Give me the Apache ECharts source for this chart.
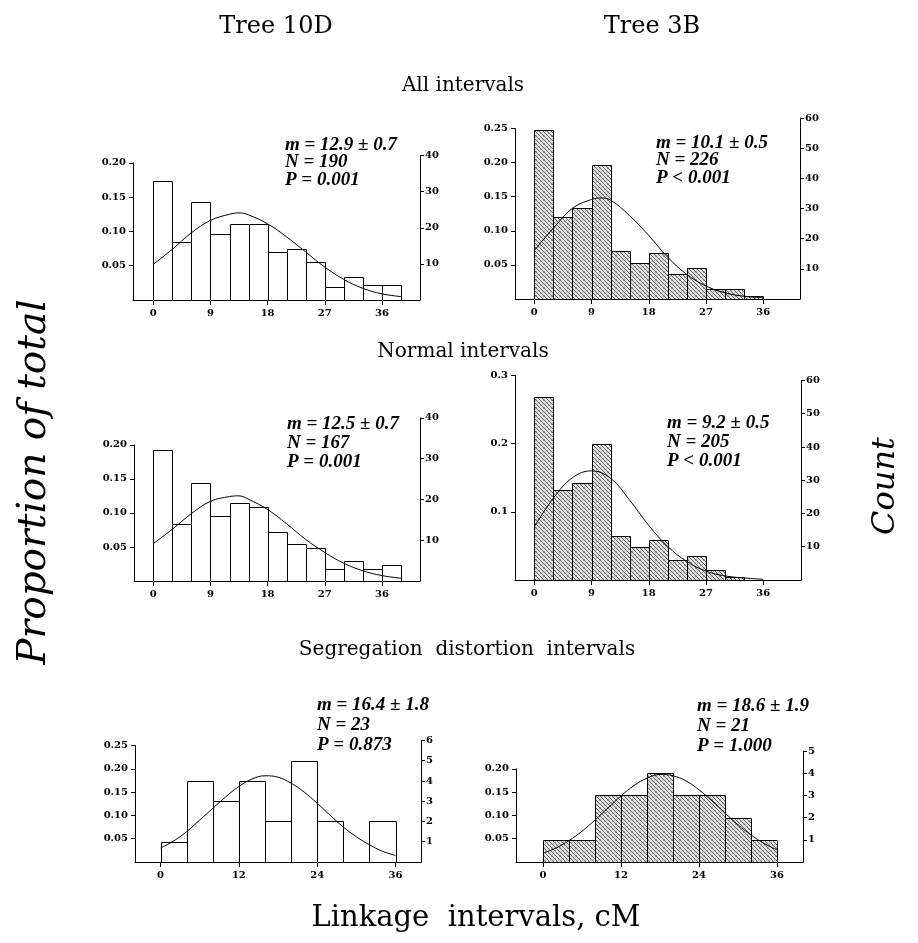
<!DOCTYPE html>
<html><head><meta charset="utf-8">
<script src="https://cdn.jsdelivr.net/npm/echarts@6/dist/echarts.min.js"></script>
<style>html,body{margin:0;padding:0;background:#fff}#c{width:918px;height:943px}</style>
</head><body><div id="c"></div>
<script>
// ---------------- DATA ----------------
var columnTitles = ['Tree 10D', 'Tree 3B'];
var sectionTitles = ['All intervals', 'Normal intervals', 'Segregation  distortion  intervals'];
var yTitle = 'Proportion of total';
var y2Title = 'Count';
var xTitle = 'Linkage  intervals, cM';

var xTicks9 = [0, 9, 18, 27, 36];
var xTicks12 = [0, 12, 24, 36];
var propTicks05a = [0.05, 0.10, 0.15, 0.20];
var propTicks05b = [0.05, 0.10, 0.15, 0.20, 0.25];
var propTicks1 = [0.1, 0.2, 0.3];
var countTicks40 = [10, 20, 30, 40];
var countTicks60 = [10, 20, 30, 40, 50, 60];
var countTicks6 = [1, 2, 3, 4, 5, 6];
var countTicks5 = [1, 2, 3, 4, 5];

var edges3to39 = [0,3,6,9,12,15,18,21,24,27,30,33,36,39];
var edges3to36 = [0,3,6,9,12,15,18,21,24,27,30,33,36];
var edges3to33 = [0,3,6,9,12,15,18,21,24,27,30,33];
var edges4to36 = [0,4,8,12,16,20,24,28,32,36];

// All intervals
var propAll10D = [0.174,0.085,0.143,0.096,0.111,0.111,0.070,0.075,0.055,0.019,0.033,0.022,0.022];
var propAll3B  = [0.248,0.120,0.134,0.196,0.071,0.053,0.067,0.036,0.045,0.014,0.014,0.005];
// Normal intervals
var propNorm10D = [0.192,0.084,0.144,0.096,0.114,0.108,0.072,0.054,0.048,0.018,0.030,0.018,0.024];
var propNorm3B  = [0.268,0.132,0.142,0.200,0.064,0.049,0.059,0.030,0.035,0.015,0.005];
// Segregation distortion intervals
var propSeg10D = [0.0435,0.174,0.130,0.174,0.087,0.217,0.087,0,0.087];
var propSeg3B  = [0.048,0.048,0.143,0.143,0.190,0.143,0.143,0.095,0.048];

// fitted normal curves
var curveXAll10D = [0,3,6,9,12,13.5,15,18,21,24,27,30,33,36,39];
var curveYAll10D = [0.052,0.074,0.098,0.116,0.125,0.127,0.124,0.111,0.092,0.070,0.048,0.030,0.017,0.009,0.005];
var curveXAll3B = [0,3,6,9,10.5,12,15,18,21,24,27,30,33,36];
var curveYAll3B = [0.071,0.104,0.133,0.146,0.148,0.145,0.122,0.093,0.061,0.036,0.019,0.009,0.004,0.002];
var curveXNorm10D = [0,3,6,9,12,13.5,15,18,21,24,27,30,33,36,39];
var curveYNorm10D = [0.055,0.076,0.099,0.117,0.124,0.125,0.120,0.105,0.084,0.061,0.042,0.026,0.015,0.008,0.004];
var curveXNorm3B = [0,3,6,9,12,15,18,21,24,27,30,33,36];
var curveYNorm3B = [0.078,0.120,0.150,0.160,0.149,0.117,0.080,0.049,0.027,0.013,0.006,0.003,0.001];
var curveXSeg10D = [0,2,4,6,8,10,12,14,16,18,20,22,24,26,28,30,32,34,36];
var curveYSeg10D = [0.030,0.045,0.065,0.090,0.115,0.140,0.162,0.178,0.185,0.182,0.169,0.150,0.126,0.100,0.075,0.054,0.037,0.023,0.014];
var curveXSeg3B = [0,2,4,6,8,10,12,14,16,18,20,22,24,26,28,30,32,34,36];
var curveYSeg3B = [0.019,0.030,0.046,0.066,0.090,0.116,0.142,0.164,0.180,0.188,0.185,0.174,0.155,0.131,0.105,0.080,0.058,0.040,0.026];

var countN = [190, 226, 167, 205, 23, 21];
var statsAll10D = ['m = 12.9 \u00b1 0.7', 'N = 190', 'P = 0.001'];
var statsAll3B  = ['m = 10.1 \u00b1 0.5', 'N = 226', 'P < 0.001'];
var statsNorm10D = ['m = 12.5 \u00b1 0.7', 'N = 167', 'P = 0.001'];
var statsNorm3B  = ['m = 9.2 \u00b1 0.5', 'N = 205', 'P < 0.001'];
var statsSeg10D = ['m = 16.4 \u00b1 1.8', 'N = 23', 'P = 0.873'];
var statsSeg3B  = ['m = 18.6 \u00b1 1.9', 'N = 21', 'P = 1.000'];

// ---------------- LAYOUT ----------------
var panelData = [
  {edges: edges3to39, prop: propAll10D, cx: curveXAll10D, cy: curveYAll10D, stats: statsAll10D, xt: xTicks9, yt: propTicks05a, ct: countTicks40, hatch: false},
  {edges: edges3to36, prop: propAll3B, cx: curveXAll3B, cy: curveYAll3B, stats: statsAll3B, xt: xTicks9, yt: propTicks05b, ct: countTicks60, hatch: true},
  {edges: edges3to39, prop: propNorm10D, cx: curveXNorm10D, cy: curveYNorm10D, stats: statsNorm10D, xt: xTicks9, yt: propTicks05a, ct: countTicks40, hatch: false},
  {edges: edges3to33, prop: propNorm3B, cx: curveXNorm3B, cy: curveYNorm3B, stats: statsNorm3B, xt: xTicks9, yt: propTicks1, ct: countTicks60, hatch: true},
  {edges: edges4to36, prop: propSeg10D, cx: curveXSeg10D, cy: curveYSeg10D, stats: statsSeg10D, xt: xTicks12, yt: propTicks05b, ct: countTicks6, hatch: false},
  {edges: edges4to36, prop: propSeg3B, cx: curveXSeg3B, cy: curveYSeg3B, stats: statsSeg3B, xt: xTicks12, yt: propTicks05a, ct: countTicks5, hatch: true}
];
var layout = [
  {axL:133, axR:420, x0:153.3, ppu:6.35, base:300, k:686, maxL:0.20, decL:2, maxR:40, tx:285, ty:145, tg:17.5},
  {axL:515, axR:800, x0:534.3, ppu:6.36, base:299, k:682, maxL:0.25, decL:2, maxR:60, tx:656, ty:143, tg:17.5},
  {axL:134, axR:420, x0:153.3, ppu:6.35, base:581, k:681, maxL:0.20, decL:2, maxR:40, tx:287, ty:424, tg:19},
  {axL:515, axR:801, x0:534.3, ppu:6.36, base:580, k:682, maxL:0.3, decL:1, maxR:60, tx:667, ty:423, tg:19},
  {axL:135, axR:421, x0:160.5, ppu:6.53, base:862, k:466, maxL:0.25, decL:2, maxR:6, tx:317, ty:705, tg:20},
  {axL:516, axR:803, x0:543, ppu:6.5, base:862, k:466, maxL:0.20, decL:2, maxR:5, tx:697, ty:706, tg:20}
];

function makeHatch() {
  var S = 8;
  var c = document.createElement('canvas'); c.width = S; c.height = S;
  var ctx = c.getContext('2d');
  var img = ctx.createImageData(S, S);
  for (var y = 0; y < S; y++) for (var x = 0; x < S; x++) {
    var v;
    if ((((x - y) % 4) + 4) % 4 === 0) v = 95;
    else if ((x * 5 + y * 3) % 7 === 0) v = 175;
    else v = 228;
    var o = (y * S + x) * 4;
    img.data[o] = img.data[o + 1] = img.data[o + 2] = v; img.data[o + 3] = 255;
  }
  ctx.putImageData(img, 0, 0);
  return c;
}
var hatchCanvas = makeHatch();

var tickFont = {fontFamily: 'DejaVu Serif', fontWeight: 'bold', fontSize: 10, color: '#000'};
var blackLine = {color: '#000', width: 1};

var grids = [], xAxes = [], yAxes = [], series = [], graphics = [];
panelData.forEach(function (pd, i) {
  var L = layout[i];
  var N = countN[i];
  var xmin = -(L.x0 - L.axL) / L.ppu, xmax = (L.axR - L.x0) / L.ppu;
  var hL = L.maxL * L.k, hR = (L.maxR / N) * L.k;
  grids.push({left: L.axL, width: L.axR - L.axL, top: L.base - hL, height: hL, containLabel: false});
  grids.push({left: L.axL, width: L.axR - L.axL, top: L.base - hR, height: hR, containLabel: false});
  var gL = 2 * i, gR = 2 * i + 1;
  xAxes.push({gridIndex: gL, type: 'value', min: xmin, max: xmax,
    axisLine: {show: true, onZero: false, lineStyle: blackLine},
    axisTick: {show: true, customValues: pd.xt, length: 5, lineStyle: blackLine},
    axisLabel: Object.assign({customValues: pd.xt, margin: 8}, tickFont),
    splitLine: {show: false}});
  xAxes.push({gridIndex: gR, type: 'value', min: xmin, max: xmax, show: false});
  yAxes.push({gridIndex: gL, type: 'value', position: 'left', min: 0, max: L.maxL,
    axisLine: {show: true, onZero: false, lineStyle: blackLine},
    axisTick: {show: true, length: 4, customValues: pd.yt, lineStyle: blackLine},
    axisLabel: Object.assign({margin: 7, customValues: pd.yt, formatter: function (v) { return (+v).toFixed(L.decL); }}, tickFont),
    splitLine: {show: false}});
  yAxes.push({gridIndex: gR, type: 'value', position: 'right', min: 0, max: L.maxR,
    axisLine: {show: true, onZero: false, lineStyle: blackLine},
    axisTick: {show: true, length: 4, customValues: pd.ct, lineStyle: blackLine},
    axisLabel: Object.assign({margin: 5, customValues: pd.ct, formatter: function (v) { return String(Math.round(v)); }}, tickFont),
    splitLine: {show: false}});
  var barData = pd.prop.map(function (v, j) { return [pd.edges[j], pd.edges[j + 1], v]; });
  series.push({type: 'custom', xAxisIndex: gL, yAxisIndex: gL, data: barData, z: 3,
    renderItem: function (params, api) {
      var v = api.value(2);
      if (!(v > 0)) return null;
      var p0 = api.coord([api.value(0), v]);
      var p1 = api.coord([api.value(1), 0]);
      var x0 = Math.round(p0[0]) + 0.5, x1 = Math.round(p1[0]) + 0.5;
      var y0 = Math.round(p0[1]) + 0.5, y1 = Math.round(p1[1]) + 0.5;
      return {type: 'rect', shape: {x: x0, y: y0, width: x1 - x0, height: y1 - y0},
        style: {fill: pd.hatch ? {image: hatchCanvas, repeat: 'repeat'} : '#fff', stroke: '#000', lineWidth: 1}};
    }});
  series.push({type: 'line', xAxisIndex: gL, yAxisIndex: gL, z: 5, smooth: 0.4, symbol: 'none',
    lineStyle: {color: '#000', width: 1}, silent: true,
    data: pd.cx.map(function (x, j) { return [x, pd.cy[j]]; })});
  pd.stats.forEach(function (s, j) {
    graphics.push({type: 'text', x: L.tx, y: L.ty + j * L.tg, z: 10,
      style: {text: s, font: 'italic bold 19px "Liberation Serif"', fill: '#000', align: 'left', verticalAlign: 'middle'}});
  });
});

graphics.push({type: 'text', x: 276, y: 27, style: {text: columnTitles[0], font: '24px "DejaVu Serif"', fill: '#000', align: 'center', verticalAlign: 'middle'}});
graphics.push({type: 'text', x: 652, y: 27, style: {text: columnTitles[1], font: '24px "DejaVu Serif"', fill: '#000', align: 'center', verticalAlign: 'middle'}});
graphics.push({type: 'text', x: 463, y: 86, style: {text: sectionTitles[0], font: '20px "DejaVu Serif"', fill: '#000', align: 'center', verticalAlign: 'middle'}});
graphics.push({type: 'text', x: 463, y: 352, style: {text: sectionTitles[1], font: '20px "DejaVu Serif"', fill: '#000', align: 'center', verticalAlign: 'middle'}});
graphics.push({type: 'text', x: 467, y: 650, style: {text: sectionTitles[2], font: '20px "DejaVu Serif"', fill: '#000', align: 'center', verticalAlign: 'middle'}});
graphics.push({type: 'text', x: 35, y: 482, rotation: Math.PI / 2, style: {text: yTitle, font: 'italic 39px "DejaVu Serif"', fill: '#000', align: 'center', verticalAlign: 'middle'}});
graphics.push({type: 'text', x: 886, y: 486, rotation: Math.PI / 2, style: {text: y2Title, font: 'italic 32px "DejaVu Serif"', fill: '#000', align: 'center', verticalAlign: 'middle'}});
graphics.push({type: 'text', x: 476, y: 918, style: {text: xTitle, font: '29px "DejaVu Serif"', fill: '#000', align: 'center', verticalAlign: 'middle'}});

var chart = echarts.init(document.getElementById('c'), null, {renderer: 'canvas', width: 918, height: 943});
chart.setOption({
  animation: false,
  backgroundColor: '#fff',
  grid: grids, xAxis: xAxes, yAxis: yAxes, series: series, graphic: graphics
});
</script></body></html>
